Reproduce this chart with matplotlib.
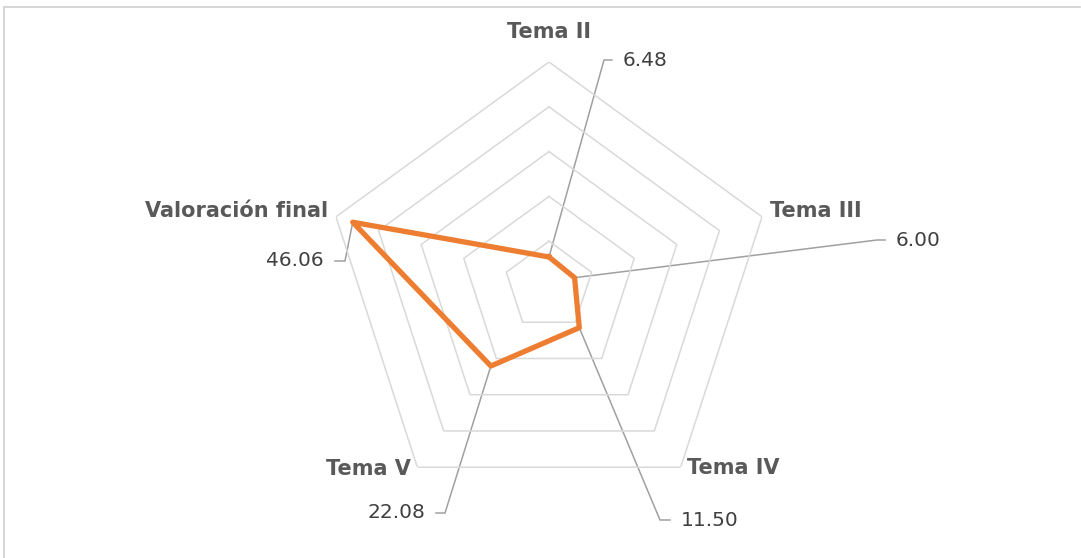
import numpy as np
import matplotlib
matplotlib.use("Agg")
import matplotlib.pyplot as plt
from matplotlib.lines import Line2D

# data
categories = ["Tema II", "Tema III", "Tema IV", "Tema V", "Valoración final"]
values = [6.48, 6.00, 11.50, 22.08, 46.06]
value_labels = ["6.48", "6.00", "11.50", "22.08", "46.06"]
ring_levels = [10, 20, 30, 40, 50]

W, H = 1081, 558
CX, CY, R = 549, 286, 224      # radar centre / radius in pixels (from top)

ORANGE = "#ED7D31"
GRID = "#D9D9D9"
LEADER = "#A0A0A0"
CAT_C = "#595959"
VAL_C = "#404040"

fig = plt.figure(figsize=(W / 100, H / 100), dpi=100)
fig.patch.set_facecolor("white")

# overlay axes in pixel coordinates (y down) for frame, labels, leaders
ov = fig.add_axes([0, 0, 1, 1])
ov.set_xlim(0, W)
ov.set_ylim(H, 0)
ov.axis("off")

ax = fig.add_axes([(CX - R) / W, (H - CY - R) / H, 2 * R / W, 2 * R / H],
                  projection="polar")
ax.set_theta_zero_location("N")
ax.set_theta_direction(-1)
ax.set_ylim(0, 50)
ax.grid(False)
ax.spines["polar"].set_visible(False)
ax.set_xticks([])
ax.set_yticks([])
ax.patch.set_alpha(0)

n = len(categories)
angles = np.linspace(0, 2 * np.pi, n, endpoint=False)
closed = np.concatenate([angles, angles[:1]])

for lv in ring_levels:
    ax.plot(closed, [lv] * (n + 1), color=GRID, lw=1.1, zorder=1)

vals = np.array(values + values[:1])
ax.plot(closed, vals, color=ORANGE, lw=3.8, solid_joinstyle="round", zorder=3)

# frame (top and left edge only)
ov.add_line(Line2D([4, W - 1], [7, 7], color="#D0D0D0", lw=1.2))
ov.add_line(Line2D([4, 4], [7, H], color="#D0D0D0", lw=1.2))

# category labels (pixel positions)
cat_pos = [(549, 32), (816, 211), (733, 468), (368, 469), (237, 211)]
for name, (x, y) in zip(categories, cat_pos):
    ov.text(x, y, name, ha="center", va="center", fontsize=15, fontweight="bold",
            color=CAT_C, family="DejaVu Sans")

# data labels with leader lines: (elbow x, elbow y, text x, ha)
lab_pos = [(604, 60, 614, "left"), (877, 240, 887, "left"),
           (660, 520, 672, "left"), (445, 513, 434, "right"),
           (345, 261, 333, "right")]

fig.canvas.draw()
for ang, v, txt, (ex, ey, tx, ha) in zip(angles, values, value_labels, lab_pos):
    dx, dy = ax.transData.transform((ang, v))
    px, py = dx, H - dy
    ov.add_line(Line2D([px, ex, tx + (-2 if ha == "left" else 2)], [py, ey, ey],
                       color=LEADER, lw=1.1, zorder=2))
    ov.text(tx + (9 if ha == "left" else -9), ey, txt, ha=ha, va="center",
            fontsize=14.5, color=VAL_C, family="DejaVu Sans")

fig.savefig("out.png", dpi=100, facecolor="white")
